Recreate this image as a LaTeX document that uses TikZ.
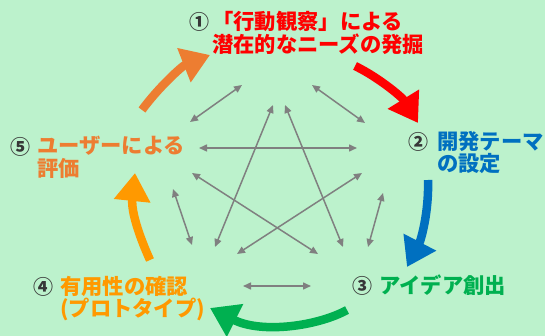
\documentclass[tikz,border=0pt]{standalone}
\usepackage{fontspec}
\newfontfamily\cjk{Noto Sans CJK JP}
\usetikzlibrary{arrows.meta}
\definecolor{bg}{RGB}{188,242,204}
\definecolor{numgray}{RGB}{55,55,55}
\definecolor{linkgray}{RGB}{128,128,128}
\definecolor{cred}{RGB}{255,0,0}
\definecolor{cblue}{RGB}{0,112,192}
\definecolor{cgreen}{RGB}{0,176,80}
\definecolor{corange}{RGB}{255,153,0}
\definecolor{corange2}{RGB}{237,125,49}
\begin{document}
\begin{tikzpicture}[x=1pt,y=-1pt,
  lbl/.style={anchor=north west, inner sep=0pt, align=left, font=\cjk\bfseries\fontsize{21.3}{22.5}\selectfont},
  num/.style={anchor=north west, inner sep=0pt, text=numgray, font=\cjk\bfseries\fontsize{20}{22}\selectfont},
  big/.style={line width=8.5pt, -{Triangle[length=28pt,width=35pt]}},
  link/.style={draw=linkgray, line width=1.5pt, {Triangle[length=8pt,width=7pt]}-{Triangle[length=8pt,width=7pt]}}]
\fill[bg] (0,0) rectangle (545,336);
\useasboundingbox (0,0) rectangle (545,336);

% labels
\node[num] (n1) at (189,12) {①};
\node[lbl, text=cred] (t1) at (212,11) {「行動観察」による\\潜在的なニーズの発掘};
\node[num] (n2) at (408,132) {②};
\node[lbl, text=cblue] (t2) at (437,131) {開発テーマ\\の設定};
\node[num] (n3) at (352,276) {③};
\node[lbl, text=cgreen] (t3) at (379,275) {アイデア創出};
\node[num] (n4) at (33,277) {④};
\node[lbl, text=corange] (t4) at (60,276) {有用性の確認\\(プロトタイプ)};
\node[num] (n5) at (10,137) {⑤};
\node[lbl, text=corange2] (t5) at (37,136) {ユーザーによる\\評価};

% big cycle arrows
\coordinate (a1s) at (142,110); \coordinate (a1e) at (210,55);
\coordinate (a2s) at (355,66);  \coordinate (a2e) at (418,123);
\coordinate (a3s) at (428,180); \coordinate (a3e) at (407,267);
\coordinate (a4s) at (347,310); \coordinate (a4e) at (210,308);
\coordinate (a5s) at (150,260); \coordinate (a5e) at (135,173);
\draw[big, corange2] (a1s) .. controls (158,88) and (182,66) .. (a1e);
\draw[big, cred] (a2s) .. controls (378,77) and (402,97) .. (a2e);
\draw[big, cblue] (a3s) .. controls (429,212) and (421,240) .. (a3e);
\draw[big, cgreen] (a4s) .. controls (318,326) and (262,334) .. (a4e);
\draw[big, corange] (a5s) .. controls (140,238) and (131,212) .. (a5e);

% gray links
\coordinate (p1a) at (190,122); \coordinate (p1b) at (242,85);
\coordinate (p2a) at (312,85);  \coordinate (p2b) at (365,123);
\coordinate (p3a) at (199,148); \coordinate (p3b) at (357,148);
\coordinate (p4a) at (192,173); \coordinate (p4b) at (318,254);
\coordinate (p5a) at (362,173); \coordinate (p5b) at (237,254);
\coordinate (p6a) at (273,105); \coordinate (p6b) at (215,247);
\coordinate (p7a) at (285,105); \coordinate (p7b) at (343,247);
\coordinate (p8a) at (173,189); \coordinate (p8b) at (192,245);
\coordinate (p9a) at (383,193); \coordinate (p9b) at (368,247);
\coordinate (p10a) at (243,286); \coordinate (p10b) at (311,286);
\foreach \i in {1,...,10} \draw[link] (p\i a) -- (p\i b);
\end{tikzpicture}
\end{document}
